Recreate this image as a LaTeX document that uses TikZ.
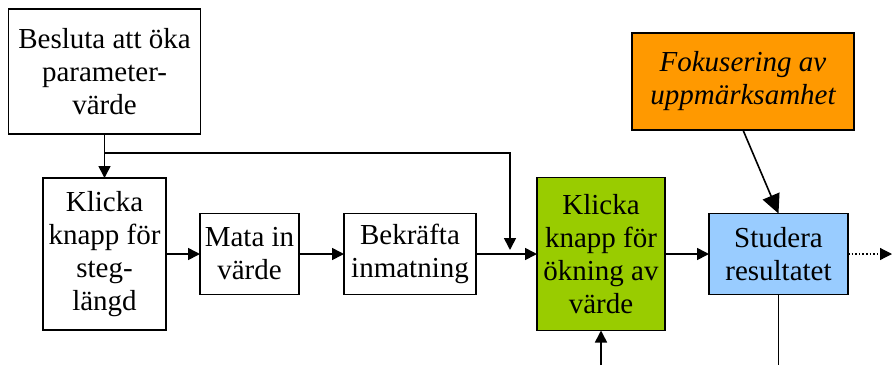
\documentclass[tikz,border=0pt]{standalone}
\usepackage{fontspec}
\setmainfont{Liberation Serif}
\usetikzlibrary{arrows.meta,positioning}
\definecolor{stepgreen}{RGB}{153,204,0}
\definecolor{resultblue}{RGB}{153,204,255}
\definecolor{focusorange}{RGB}{255,153,0}

\begin{document}
\begin{tikzpicture}[x=1pt,y=-1pt,
      font=\fontsize{29}{33}\selectfont,
      b/.style={rectangle, draw, line width=1.6pt, align=center, inner sep=0pt, outer sep=0pt},
      arr/.style={-{Triangle[length=12pt,width=12pt]}, line width=1.6pt}]
    \useasboundingbox (0,0) rectangle (892,365);
    % main chain of steps
    \node[b, minimum width=123pt, minimum height=152pt] (steg) at (104.5,254) {Klicka\\knapp för\\steg-\\längd};
    \node[b, minimum width=192pt, minimum height=125pt, above=44pt of steg] (besluta) {Besluta att öka\\parameter-\\värde};
    \node[b, minimum width=99pt, minimum height=81pt, right=34pt of steg] (mata) {Mata in\\värde};
    \node[b, minimum width=132pt, minimum height=81pt, right=45pt of mata] (bekrafta) {Bekräfta\\inmatning};
    \node[b, fill=stepgreen, minimum width=128pt, minimum height=153pt, right=61pt of bekrafta] (okning) {Klicka\\knapp för\\ökning av\\värde};
    \node[b, fill=resultblue, minimum width=139pt, minimum height=81pt, right=44pt of okning] (studera) {Studera\\resultatet};
    \node[b, fill=focusorange, font=\fontsize{29}{33}\selectfont\itshape, minimum width=222pt, minimum height=97pt] (fokus) at (743,81.5) {Fokusering av\\uppmärksamhet};

    \coordinate (turn) at (510,153);
    \coordinate (drop) at (510,250);
    \coordinate (bottom) at (0,365);
    \coordinate[right=44pt of studera.east] (next);
    \coordinate (inlet) at (okning.south |- bottom);
    \coordinate (outlet) at (studera.south |- bottom);

    \draw[arr] (besluta) -- (steg);
    \draw[arr] (besluta.south |- turn) -- (turn) -- (drop);
    \draw[arr] (steg) -- (mata);
    \draw[arr] (mata) -- (bekrafta);
    \draw[arr] (bekrafta) -- (okning);
    \draw[arr] (okning) -- (studera);
    \draw[arr, dotted, line width=1.2pt] (studera) -- (next);
    \draw[-{Triangle[length=19pt,width=18pt]}, line width=1.6pt] (fokus.south) -- (studera.north);
    \draw[arr] (inlet) -- (okning.south);
    \draw[line width=1.6pt] (studera.south) -- (outlet);
  \end{tikzpicture}
\end{document}
